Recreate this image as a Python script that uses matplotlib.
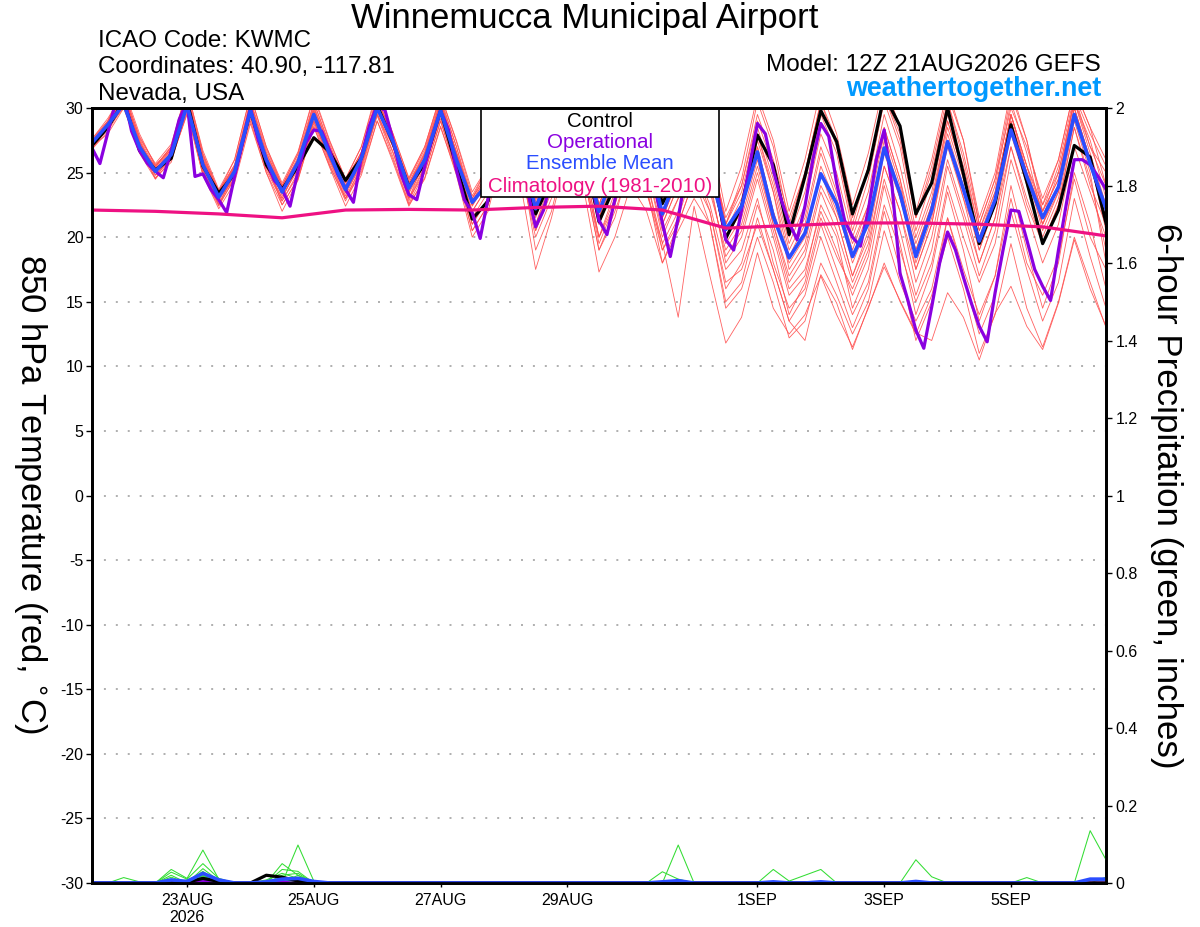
import numpy as np
import pandas as pd
import matplotlib
matplotlib.use("Agg")
import matplotlib.pyplot as plt
from matplotlib.patches import Rectangle

plt.rcParams['font.family'] = ['Liberation Sans', 'DejaVu Sans']
plt.rcParams['axes.unicode_minus'] = False

# ---------------- data ----------------
times6 = pd.date_range('2026-08-21 12:00', periods=65, freq='6h')
times3 = pd.date_range('2026-08-21 12:00', periods=129, freq='3h')
times_clim = pd.date_range('2026-08-21 12:00', periods=17, freq='1D')

control = [27.1, 28.5, 30.5, 26.7, 25.2, 26.1, 30.5, 25.5, 23.4, 24.9,
           29.8, 25.6, 23.7, 25.5, 27.7, 26.6, 24.4, 26.1, 30.2, 27.3,
           23.9, 25.7, 29.8, 25.5, 21.4, 22.8, 29.5, 27.0, 21.8, 24.5,
           30.0, 27.0, 21.2, 24.0, 29.5, 27.0, 22.6, 25.0, 29.5, 26.0,
           19.9, 22.4, 27.9, 25.6, 20.2, 24.7, 29.8, 27.4, 21.8, 25.2,
           31.0, 28.6, 21.8, 24.2, 30.0, 24.9, 19.5, 22.6, 28.7, 24.3,
           19.5, 22.1, 27.1, 26.2, 21.1]

ens_mean = [27.3, 28.7, 30.3, 27.0, 25.1, 26.4, 30.2, 25.6, 23.1, 25.1,
            29.8, 26.0, 23.5, 25.8, 29.5, 26.4, 23.7, 26.1, 30.0, 27.4,
            23.8, 26.0, 29.8, 26.0, 22.7, 24.2, 29.0, 27.0, 22.2, 25.5,
            29.5, 27.0, 22.0, 25.0, 29.0, 27.0, 21.8, 25.0, 27.5, 25.0,
            20.6, 22.4, 26.6, 21.6, 18.4, 20.3, 24.9, 22.6, 18.5, 21.1,
            26.9, 23.4, 18.5, 22.1, 27.4, 23.7, 19.7, 22.9, 28.3, 24.7,
            21.5, 23.9, 29.5, 25.7, 22.2]

operational = [26.9, 25.7, 28.1, 30.5, 31.0, 28.2, 26.7, 25.7, 25.1, 24.6,
               26.7, 29.1, 30.5, 24.7, 24.9, 23.7, 22.9, 21.9, 24.7, 27.3,
               30.0, 27.5, 26.0, 24.4, 23.7, 22.4, 25.1, 27.3, 28.3, 28.2,
               26.7, 24.9, 23.7, 22.7, 26.2, 28.6, 30.2, 29.8, 27.5, 24.9,
               23.3, 22.9, 25.5, 27.8, 29.8, 28.3, 25.2, 22.9, 21.9, 19.9,
               23.0, 27.0, 29.5, 28.0, 26.0, 23.5, 20.8, 22.1, 24.5, 27.5,
               29.5, 29.0, 27.0, 24.5, 21.3, 20.2, 22.9, 26.0, 28.5, 29.0,
               27.0, 24.0, 21.1, 18.5, 21.5, 25.0, 27.5, 27.0, 25.0, 23.3,
               19.8, 19.0, 22.1, 25.5, 28.8, 28.0, 25.2, 22.9, 21.1, 19.8,
               22.4, 26.0, 28.8, 27.8, 24.2, 21.3, 20.0, 19.3, 22.1, 26.0,
               28.3, 23.9, 17.2, 15.1, 12.8, 11.4, 14.6, 18.0, 20.4, 19.0,
               16.9, 14.9, 13.1, 11.9, 15.7, 19.0, 22.1, 22.0, 19.8, 17.5,
               16.2, 15.1, 19.0, 22.6, 26.0, 26.0, 25.6, 24.7, 23.7]

climatology = [22.1, 22.0, 21.8, 21.5, 22.1, 22.15, 22.1, 22.3, 22.4, 22.1,
               20.7, 20.9, 21.1, 21.1, 21.0, 20.8, 20.1]

members = [
    [27.0, 28.8, 31.0, 27.5, 25.0, 26.5, 31.0, 26.0, 23.5, 25.5, 30.5, 26.5, 24.0, 26.0, 30.0, 27.0, 24.5, 26.5, 31.0, 27.5, 24.0, 26.5, 30.5, 26.5, 23.0, 25.0, 30.5, 28.0, 23.0, 26.5, 31.0, 28.0, 22.5, 26.0, 30.5, 28.0, 23.0, 26.5, 30.0, 26.5, 21.5, 24.0, 29.5, 26.0, 21.5, 25.0, 30.5, 27.0, 21.0, 25.5, 31.0, 27.5, 21.5, 25.0, 30.5, 26.0, 20.5, 24.0, 30.5, 26.5, 21.5, 25.0, 30.5, 27.5, 23.0],
    [27.5, 28.5, 30.5, 27.0, 24.5, 26.0, 30.5, 25.0, 23.0, 25.0, 29.5, 25.5, 23.0, 25.5, 29.0, 26.0, 23.5, 26.0, 29.5, 27.0, 23.0, 25.0, 29.0, 25.0, 21.5, 23.5, 28.0, 26.0, 21.0, 24.5, 28.5, 26.0, 20.0, 23.0, 27.0, 24.5, 19.5, 22.0, 25.5, 22.5, 17.5, 19.0, 23.0, 18.0, 14.5, 16.0, 21.0, 17.5, 14.0, 16.5, 22.5, 19.0, 15.0, 18.0, 24.0, 20.0, 16.5, 19.5, 26.0, 22.0, 18.0, 21.0, 27.0, 23.5, 20.0],
    [27.0, 29.0, 31.5, 27.0, 25.5, 27.0, 30.5, 25.5, 22.5, 24.5, 30.0, 25.5, 23.0, 25.5, 30.5, 27.0, 23.5, 25.5, 30.0, 27.0, 23.0, 26.0, 30.5, 26.5, 22.5, 24.5, 29.5, 27.5, 22.5, 25.5, 30.5, 27.5, 21.5, 25.0, 29.5, 27.0, 22.0, 25.0, 28.5, 25.5, 19.5, 21.5, 26.0, 21.0, 17.0, 19.0, 24.0, 21.5, 17.0, 20.5, 27.0, 23.0, 18.5, 22.0, 28.0, 24.0, 19.0, 22.5, 29.0, 25.0, 22.0, 24.5, 30.0, 26.0, 22.5],
    [27.5, 28.5, 30.0, 26.5, 24.5, 26.5, 30.0, 25.0, 22.5, 25.0, 29.5, 26.0, 22.5, 24.5, 29.0, 26.0, 23.0, 25.5, 29.5, 26.5, 23.0, 25.5, 29.5, 25.5, 21.0, 23.0, 28.5, 26.5, 19.0, 22.0, 27.0, 25.0, 19.0, 22.0, 25.5, 23.5, 19.6, 13.8, 22.4, 17.0, 11.8, 13.8, 18.8, 14.5, 12.5, 14.0, 17.0, 14.0, 11.5, 14.5, 18.0, 15.0, 12.5, 15.5, 20.0, 16.0, 11.0, 14.0, 19.5, 14.5, 11.5, 15.0, 20.0, 16.5, 13.0],
    [27.0, 28.0, 30.0, 27.0, 25.0, 26.0, 29.5, 25.5, 23.0, 24.5, 29.0, 25.0, 22.5, 24.5, 28.5, 25.5, 23.0, 25.0, 29.0, 26.0, 22.5, 24.5, 28.5, 25.0, 20.5, 22.5, 27.5, 25.5, 20.0, 23.0, 27.5, 25.0, 19.0, 21.5, 26.0, 23.5, 19.0, 21.0, 24.5, 22.0, 16.5, 17.5, 21.0, 17.5, 13.5, 12.0, 17.1, 14.9, 11.3, 14.6, 17.7, 15.1, 12.6, 12.0, 15.7, 13.8, 10.5, 14.1, 16.2, 13.1, 11.3, 14.9, 19.8, 16.0, 13.1],
    [27.2, 28.6, 30.5, 27.2, 25.2, 26.5, 30.5, 26.0, 23.2, 25.2, 30.0, 26.2, 23.5, 25.8, 29.5, 26.5, 23.8, 26.2, 30.2, 27.5, 24.0, 26.2, 30.0, 26.0, 22.5, 24.5, 29.5, 27.5, 22.0, 25.5, 29.5, 27.0, 21.5, 25.0, 29.0, 27.0, 21.5, 24.5, 28.0, 25.0, 20.0, 22.0, 27.0, 22.0, 18.0, 20.0, 25.5, 22.5, 18.0, 21.0, 27.5, 23.5, 17.5, 21.0, 27.5, 23.5, 19.0, 22.5, 28.5, 24.5, 21.0, 23.5, 29.5, 25.5, 21.5],
    [27.5, 29.0, 31.5, 28.0, 25.5, 27.0, 31.5, 26.5, 23.5, 26.0, 31.0, 27.0, 24.0, 26.5, 31.0, 27.5, 24.5, 27.0, 31.5, 28.0, 24.5, 27.0, 31.0, 27.5, 23.5, 25.5, 31.0, 28.5, 23.5, 27.0, 31.5, 28.5, 23.0, 26.5, 31.0, 28.5, 23.5, 27.0, 31.0, 28.0, 22.0, 25.5, 31.0, 27.5, 22.0, 26.0, 31.5, 28.0, 22.5, 26.5, 32.0, 28.5, 22.0, 26.0, 31.5, 27.5, 21.5, 25.0, 31.5, 27.5, 22.5, 26.0, 31.5, 28.5, 24.0],
    [26.8, 28.5, 30.8, 27.2, 24.8, 26.2, 30.2, 25.2, 22.8, 24.8, 29.5, 25.8, 23.2, 25.2, 29.2, 26.2, 23.2, 25.8, 30.0, 27.0, 23.5, 25.8, 29.8, 26.0, 22.0, 24.0, 29.0, 27.0, 21.5, 25.0, 29.0, 26.5, 21.0, 24.5, 28.5, 26.0, 21.0, 24.0, 27.0, 24.0, 18.5, 20.5, 25.0, 20.5, 16.0, 17.5, 22.0, 19.0, 15.5, 18.5, 24.5, 20.5, 15.5, 19.0, 25.5, 21.5, 17.0, 20.5, 27.0, 22.5, 19.5, 22.5, 28.5, 24.5, 19.0],
    [27.3, 28.8, 30.6, 27.4, 25.3, 26.6, 30.8, 26.3, 23.4, 25.4, 30.2, 26.4, 23.8, 26.0, 30.0, 26.8, 24.0, 26.4, 30.6, 27.8, 24.2, 26.4, 30.2, 26.6, 23.0, 25.0, 30.0, 28.0, 22.8, 26.0, 30.5, 27.5, 22.5, 25.5, 30.0, 27.5, 22.5, 25.5, 29.5, 26.5, 21.0, 23.5, 28.5, 24.5, 19.5, 22.5, 28.0, 25.0, 20.0, 23.5, 29.5, 25.5, 20.0, 23.5, 29.5, 25.5, 20.5, 23.5, 29.5, 25.5, 22.0, 24.5, 30.5, 26.5, 22.5],
    [26.8, 28.2, 30.2, 26.8, 24.6, 25.8, 29.8, 24.8, 22.4, 24.6, 29.4, 25.4, 22.8, 25.0, 29.0, 25.8, 23.0, 25.4, 29.6, 26.6, 22.8, 25.4, 29.2, 25.4, 20.5, 22.5, 28.0, 26.0, 20.5, 24.0, 28.5, 26.0, 20.0, 23.5, 28.0, 25.5, 20.0, 23.0, 27.0, 24.5, 18.0, 20.0, 24.5, 20.0, 15.5, 17.0, 22.5, 20.0, 14.5, 17.5, 24.0, 19.5, 14.0, 17.5, 23.5, 19.0, 13.5, 17.0, 24.0, 19.0, 14.5, 18.0, 25.0, 21.0, 16.0],
    [27.6, 29.2, 31.2, 27.8, 25.6, 26.8, 30.6, 25.8, 23.0, 25.0, 29.8, 26.0, 23.6, 25.6, 29.6, 26.4, 23.4, 26.0, 30.4, 27.4, 23.6, 26.0, 30.0, 26.2, 22.8, 24.8, 29.5, 27.5, 22.5, 25.5, 29.5, 27.0, 22.0, 25.5, 29.5, 27.0, 22.0, 25.0, 28.5, 25.5, 20.5, 22.5, 27.0, 22.0, 18.5, 20.5, 25.0, 22.0, 18.5, 22.0, 28.0, 24.0, 19.0, 22.5, 28.5, 24.5, 20.0, 23.5, 29.5, 25.5, 22.5, 25.0, 30.5, 27.0, 24.0],
    [27.0, 28.4, 30.4, 27.0, 25.0, 26.4, 30.4, 25.6, 23.0, 25.0, 29.6, 25.6, 23.4, 25.4, 29.4, 26.0, 23.6, 25.8, 29.8, 27.0, 23.4, 25.6, 29.6, 25.6, 22.0, 24.0, 28.5, 26.5, 21.0, 24.0, 28.0, 25.5, 19.5, 22.5, 27.0, 24.5, 19.0, 21.5, 25.5, 22.0, 16.0, 18.0, 22.5, 19.0, 14.0, 16.5, 21.5, 18.5, 16.0, 19.0, 25.5, 22.0, 17.5, 21.0, 27.0, 23.0, 19.5, 22.5, 29.0, 25.0, 21.0, 24.0, 30.0, 26.0, 22.0],
    [27.4, 28.9, 30.9, 27.6, 25.4, 27.0, 31.2, 26.4, 23.6, 25.6, 30.6, 26.8, 24.0, 26.4, 30.4, 27.2, 24.2, 26.6, 30.8, 27.6, 24.2, 26.6, 30.6, 27.0, 22.5, 24.5, 30.0, 27.5, 22.5, 25.5, 30.0, 27.5, 22.0, 25.0, 29.5, 27.0, 21.0, 24.0, 28.0, 25.0, 20.0, 22.0, 27.5, 23.5, 17.5, 19.5, 25.0, 21.5, 17.0, 20.0, 26.5, 23.0, 19.0, 22.5, 29.0, 25.0, 20.0, 23.0, 29.5, 25.5, 21.0, 24.0, 31.0, 27.0, 25.0],
    [27.2, 28.4, 30.2, 26.8, 24.8, 26.0, 29.6, 24.8, 22.2, 24.2, 28.8, 25.0, 22.0, 24.4, 28.6, 25.4, 22.4, 24.8, 29.0, 25.8, 22.4, 24.6, 28.6, 24.8, 20.0, 22.0, 27.0, 24.5, 17.5, 21.5, 26.5, 24.0, 17.3, 20.0, 24.0, 22.0, 18.0, 20.5, 23.0, 21.0, 14.5, 16.0, 20.0, 16.5, 12.2, 13.5, 18.0, 15.5, 12.5, 15.0, 20.5, 16.5, 13.5, 16.0, 21.5, 17.5, 14.0, 17.0, 23.0, 18.0, 15.5, 18.5, 24.5, 20.0, 17.5],
    [27.0, 28.6, 31.0, 27.4, 25.2, 26.8, 31.0, 26.2, 23.4, 25.6, 30.4, 26.6, 23.8, 26.2, 30.2, 26.8, 24.2, 26.6, 30.8, 27.6, 24.4, 26.8, 30.8, 27.0, 23.0, 25.5, 30.5, 28.0, 23.0, 26.5, 30.5, 28.0, 22.5, 26.0, 30.0, 27.5, 22.5, 26.0, 29.5, 27.0, 21.0, 24.0, 29.0, 25.5, 20.0, 23.5, 29.5, 26.5, 20.5, 24.5, 30.5, 27.0, 20.5, 24.5, 30.5, 26.5, 21.0, 24.5, 30.0, 27.0, 23.0, 26.0, 31.5, 28.5, 26.0],
    [27.3, 28.7, 30.7, 27.3, 25.1, 26.4, 30.4, 25.8, 23.0, 25.0, 30.0, 26.0, 23.4, 25.8, 29.8, 26.6, 23.8, 26.2, 30.2, 27.2, 23.8, 26.0, 30.0, 26.0, 22.4, 24.4, 29.2, 27.0, 21.8, 25.0, 29.5, 27.0, 21.5, 24.5, 29.0, 26.5, 21.5, 24.5, 28.0, 26.0, 20.5, 23.0, 28.0, 24.0, 19.0, 21.5, 27.0, 23.5, 19.5, 22.5, 28.5, 24.5, 18.0, 21.5, 27.5, 23.0, 18.0, 21.5, 28.0, 24.0, 20.0, 23.0, 29.0, 25.0, 18.0],
    [27.1, 28.9, 31.3, 27.7, 25.7, 27.2, 31.4, 26.7, 23.7, 26.0, 31.0, 27.0, 24.2, 26.6, 30.8, 27.4, 24.5, 27.0, 31.2, 28.0, 24.6, 27.0, 31.0, 27.4, 23.2, 25.5, 30.5, 28.5, 23.0, 26.5, 31.0, 28.5, 23.0, 26.5, 30.5, 28.0, 23.0, 26.5, 30.5, 27.5, 21.0, 24.5, 30.5, 27.0, 21.0, 25.0, 30.5, 27.5, 21.5, 25.5, 31.0, 28.0, 21.5, 25.5, 31.0, 27.5, 21.0, 24.5, 31.0, 27.5, 22.0, 25.5, 31.0, 28.0, 25.5],
    [27.6, 29.0, 30.8, 27.2, 25.0, 26.2, 30.0, 25.2, 22.6, 24.8, 29.2, 25.2, 22.8, 24.8, 28.8, 25.6, 22.8, 25.2, 29.4, 26.2, 22.6, 25.0, 29.0, 25.2, 21.0, 23.0, 28.0, 25.5, 20.5, 23.5, 28.0, 25.0, 20.0, 22.5, 26.5, 24.0, 18.0, 21.0, 24.5, 21.0, 15.0, 16.5, 21.5, 17.5, 13.5, 15.5, 20.0, 16.5, 13.0, 16.0, 22.0, 17.5, 12.0, 15.0, 21.5, 17.0, 12.5, 15.5, 22.0, 17.5, 13.5, 16.5, 23.0, 18.5, 14.5],
    [26.9, 28.4, 30.6, 27.0, 25.0, 26.6, 30.8, 26.0, 23.2, 25.4, 30.2, 26.2, 23.6, 25.8, 29.8, 26.6, 24.0, 26.2, 30.4, 27.4, 24.0, 26.4, 30.4, 26.6, 22.6, 24.6, 29.8, 27.6, 22.5, 26.0, 30.0, 27.5, 22.0, 25.5, 29.5, 27.0, 22.0, 25.0, 29.0, 26.0, 20.0, 22.5, 28.0, 23.5, 18.5, 21.0, 26.5, 23.0, 19.0, 22.5, 28.5, 24.5, 19.5, 23.0, 29.0, 25.0, 19.5, 23.0, 29.5, 25.0, 20.5, 23.5, 30.0, 26.0, 20.5],
    [27.4, 28.6, 30.4, 27.2, 25.4, 26.8, 30.6, 26.0, 23.4, 25.4, 30.0, 26.2, 23.8, 26.0, 29.6, 26.8, 24.2, 26.4, 30.4, 27.6, 24.0, 26.2, 30.2, 26.4, 22.8, 24.8, 29.6, 27.2, 22.0, 25.0, 29.0, 26.5, 21.0, 24.0, 28.0, 25.5, 20.5, 23.0, 26.5, 23.5, 19.0, 21.0, 25.5, 21.0, 16.5, 18.5, 23.5, 20.5, 16.5, 19.5, 25.5, 22.0, 16.5, 20.0, 26.0, 22.0, 18.0, 21.5, 27.0, 23.0, 19.5, 22.5, 28.5, 24.0, 21.0],
]

# 6-hour precipitation (inches): non-zero entries per step index
precip_members = [
    {2: 0.014, 3: 0.003, 5: 0.008, 6: 0.004, 7: 0.012},
    {5: 0.035, 6: 0.012, 7: 0.085, 8: 0.010, 13: 0.015},
    {5: 0.028, 6: 0.010, 7: 0.050, 8: 0.012, 12: 0.050, 13: 0.020},
    {5: 0.020, 7: 0.037, 8: 0.006, 13: 0.098, 14: 0.005, 37: 0.098},
    {5: 0.015, 7: 0.030, 12: 0.035, 13: 0.030, 36: 0.029, 37: 0.010},
    {6: 0.008, 7: 0.025, 12: 0.020, 13: 0.025, 43: 0.035, 44: 0.005, 45: 0.020, 46: 0.035},
    {7: 0.020, 11: 0.008, 12: 0.025, 13: 0.012, 52: 0.060, 53: 0.016},
    {7: 0.015, 12: 0.015, 13: 0.010, 63: 0.135, 64: 0.060},
    {5: 0.010, 7: 0.018, 13: 0.020, 59: 0.014, 64: 0.015},
    {7: 0.010, 12: 0.012, 16: 0.003},
    {13: 0.008, 26: 0.002},
    {7: 0.022, 12: 0.010},
    {6: 0.005, 13: 0.006, 40: 0.002},
    {7: 0.008, 17: 0.002},
    {12: 0.006},
]
precip_control = {6: 0.002, 7: 0.012, 8: 0.004, 11: 0.020, 12: 0.015, 13: 0.005}
precip_mean = {5: 0.008, 6: 0.004, 7: 0.025, 8: 0.008, 11: 0.003, 12: 0.010,
               13: 0.012, 14: 0.004, 36: 0.003, 37: 0.006, 43: 0.003, 46: 0.003,
               52: 0.004, 63: 0.010, 64: 0.010}
precip_oper = {13: 0.004, 14: 0.006, 24: 0.004}

tick_dates = pd.to_datetime(['2026-08-23', '2026-08-25', '2026-08-27', '2026-08-29',
                             '2026-09-01', '2026-09-03', '2026-09-05'])
tick_labels = ['23AUG\n2026', '25AUG', '27AUG', '29AUG', '1SEP', '3SEP', '5SEP']
temp_ticks = [30, 25, 20, 15, 10, 5, 0, -5, -10, -15, -20, -25, -30]
precip_ticks = [0, 0.2, 0.4, 0.6, 0.8, 1.0, 1.2, 1.4, 1.6, 1.8, 2.0]
precip_tick_labels = ['0', '0.2', '0.4', '0.6', '0.8', '1', '1.2', '1.4', '1.6', '1.8', '2']


def expand(d, n):
    arr = np.zeros(n)
    for k, v in d.items():
        arr[k] = v
    return arr


for m in members:
    assert len(m) == 65, len(m)
assert len(control) == 65 and len(ens_mean) == 65 and len(operational) == 129

# ---------------- figure ----------------
W, H = 1200, 927
fig = plt.figure(figsize=(W / 100, H / 100), dpi=100)
ax = fig.add_axes([92 / W, 44 / H, 1014 / W, 775 / H])
ax2 = ax.twinx()

RED = '#ff5050'
PURPLE = '#8a00e0'
BLUE = '#2a4dff'
MAGENTA = '#ee1183'
GREEN = '#33dd33'

for m in members:
    ax.plot(times6, m, color=RED, lw=0.6, zorder=2, alpha=0.9)
ax.plot(times6, control, color='black', lw=2.3, zorder=4)
ax.plot(times3, operational, color=PURPLE, lw=2.3, zorder=5)
ax.plot(times6, ens_mean, color=BLUE, lw=2.6, zorder=6)
ax.plot(times_clim, climatology, color=MAGENTA, lw=2.3, zorder=7)

ax.set_ylim(-30, 30)
ax.set_xlim(times6[0], times6[-1])
ax.set_yticks(temp_ticks)
ax.set_yticklabels([str(t) for t in temp_ticks])
ax.set_xticks(tick_dates)
ax.set_xticklabels(tick_labels)
for t in temp_ticks[1:-1]:
    ax.axhline(t, color='#9a9a9a', lw=1.1, linestyle=(0, (1.3, 6.5)), zorder=1)

# precipitation on right axis
for d in precip_members:
    ax2.plot(times6, expand(d, 65), color=GREEN, lw=0.75, zorder=2)
ax2.plot(times3, expand(precip_oper, 129), color=PURPLE, lw=2.3, zorder=4)
ax2.plot(times6, expand(precip_control, 65), color='black', lw=2.3, zorder=5)
ax2.plot(times6, expand(precip_mean, 65), color=BLUE, lw=2.6, zorder=6)
ax2.set_ylim(0, 2)
ax2.set_yticks(precip_ticks)
ax2.set_yticklabels(precip_tick_labels)

for a in (ax, ax2):
    for s in a.spines.values():
        s.set_linewidth(2.0)
        s.set_zorder(30)
ax.tick_params(axis='y', direction='out', length=4, width=1.0, labelsize=11.5, pad=2)
ax.tick_params(axis='x', direction='out', length=3, width=1.0, labelsize=11.5, pad=4)
ax2.tick_params(axis='y', direction='out', length=4, width=1.0, labelsize=11.5, pad=3)

# legend box
ax.add_patch(Rectangle((389 / 1014, 686 / 775), 238 / 1014, 89 / 775,
                       transform=ax.transAxes, facecolor='white', edgecolor='black',
                       lw=1.2, zorder=20, clip_on=False))
leg_items = [('Control', 'black', 126.7), ('Operational', PURPLE, 147.7),
             ('Ensemble Mean', BLUE, 169.3), ('Climatology (1981-2010)', MAGENTA, 191.7)]
for txt, col, yb in leg_items:
    ax.text(507.7 / 1014, (883 - yb) / 775, txt, color=col, fontsize=14.8,
            ha='center', va='baseline', transform=ax.transAxes, zorder=21)

# header texts
fig.text(585 / W, 1 - 28.3 / H, 'Winnemucca Municipal Airport', ha='center',
         va='baseline', fontsize=25)
fig.text(98 / W, 1 - 46.7 / H, 'ICAO Code: KWMC', ha='left', va='baseline', fontsize=17.4)
fig.text(98 / W, 1 - 73.3 / H, 'Coordinates: 40.90, -117.81', ha='left', va='baseline', fontsize=17.4)
fig.text(98 / W, 1 - 100 / H, 'Nevada, USA', ha='left', va='baseline', fontsize=17.4)
fig.text(1101 / W, 1 - 70.7 / H, 'Model: 12Z 21AUG2026 GEFS', ha='right', va='baseline', fontsize=17.5)
fig.text(1101 / W, 1 - 96 / H, 'weathertogether.net', ha='right', va='baseline',
         fontsize=19.4, fontweight='bold', color='#0099ff')

# axis titles
fig.text(30 / W, 1 - 494 / H, '850 hPa Temperature (red, $^{\\circ}$C)', rotation=270,
         ha='center', va='center', fontsize=24.9)
fig.text(1166 / W, 1 - 496 / H, '6-hour Precipitation (green, inches)', rotation=270,
         ha='center', va='center', fontsize=25.1)

fig.savefig('out.png', dpi=100)
